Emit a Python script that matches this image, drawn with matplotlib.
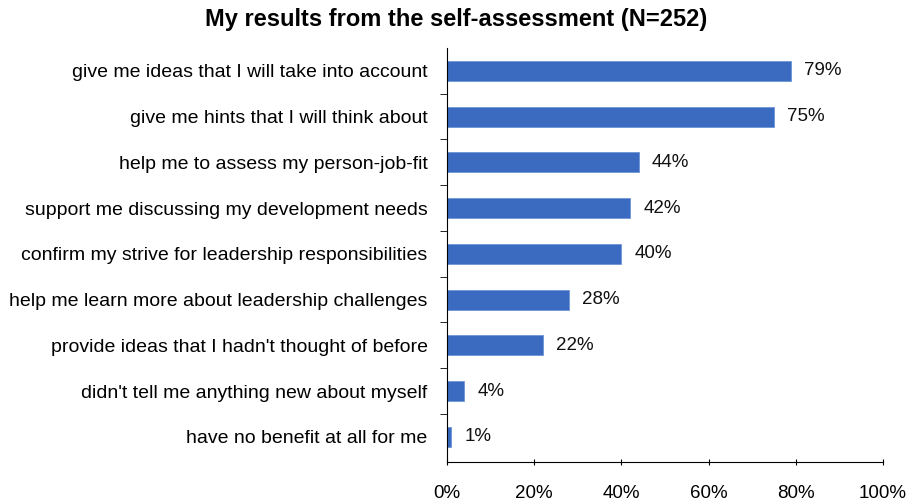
import matplotlib.pyplot as plt
import numpy as np

plt.rcParams['font.family'] = ['Liberation Sans', 'DejaVu Sans']

labels = ["give me ideas that I will take into account",
          "give me hints that I will think about",
          "help me to assess my person-job-fit",
          "support me discussing my development needs",
          "confirm my strive for leadership responsibilities",
          "help me learn more about leadership challenges",
          "provide ideas that I hadn't thought of before",
          "didn't tell me anything new about myself",
          "have no benefit at all for me"]
values = [79, 75, 44, 42, 40, 28, 22, 4, 1]
ticks = [0, 20, 40, 60, 80, 100]

fig = plt.figure(figsize=(9.13, 5.04), dpi=100)
ax = fig.add_axes([0.4896, 0.0833, 0.4775, 0.8215])

y = np.arange(len(labels))
ax.barh(y, values, height=0.44, color='#3A6BC0', edgecolor='#6E95D6', linewidth=0.6)
for yi, v in zip(y, values):
    ax.text(v + 3, yi, f"{v}%", va='center', ha='left', fontsize=13.5, color='#111111')

ax.set_xlim(0, 100)
ax.set_ylim(len(labels) - 0.45, -0.5)
ax.set_xticks(ticks)
ax.set_xticklabels([f"{t}%" for t in ticks], fontsize=13.5)
ax.set_yticks(y)
ax.set_yticklabels(labels, fontsize=14)
ax.set_yticks(y[:-1] + 0.5, minor=True)
ax.tick_params(axis='y', which='major', length=0, pad=14)
ax.tick_params(axis='y', which='minor', length=5, direction='out')
ax.tick_params(axis='x', length=5, direction='inout', pad=14)
ax.spines['top'].set_visible(False)
ax.spines['right'].set_visible(False)

fig.text(0.5, 0.962, "My results from the self-assessment (N=252)", ha='center', va='center',
         fontsize=17, fontweight='bold')

plt.savefig('out.png', dpi=100)
